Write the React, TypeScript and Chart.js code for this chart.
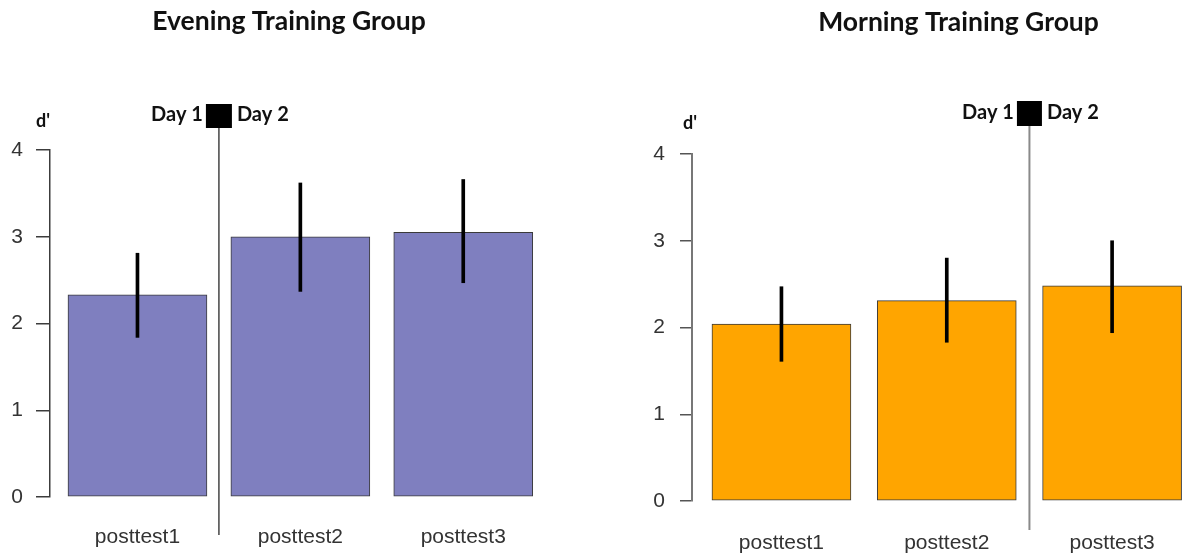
import { useEffect, useRef } from "react";
import { Chart, registerables } from "chart.js";

Chart.register(...registerables);

// Sessions shown on the x axis
const CATEGORIES = ["posttest1", "posttest2", "posttest3"];
const Y_MIN = 0;
const Y_MAX = 4;
const Y_STEP = 1;

// Evening group: mean d' with error-bar limits
const EVENING_MEAN = [2.33, 3.0, 3.05];
const EVENING_LOW = [1.84, 2.37, 2.47];
const EVENING_HIGH = [2.81, 3.62, 3.66];
const EVENING_DAY_SPLIT = 0.5;

// Morning group: mean d' with error-bar limits
const MORNING_MEAN = [2.04, 2.31, 2.48];
const MORNING_LOW = [1.61, 1.83, 1.94];
const MORNING_HIGH = [2.47, 2.8, 3.0];
const MORNING_DAY_SPLIT = 1.5;

const CANVAS_W = 593;
const CANVAS_H = 559;

const TICK_FONT = '"Liberation Sans", Arial, sans-serif';
const HEAD_FONT = 'Lato, "Open Sans", sans-serif';

type Panel = {
  title: string;
  mean: number[];
  low: number[];
  high: number[];
  split: number;
  fill: string;
  canvasLeft: number;
  axisWidth: number;
  top: number;
  bottom: number;
  padRight: number;
  xMin: number;
  xMax: number;
  tickLength: number;
  tickPad: number;
  labelPad: number;
  axisColor: string;
  axisWidthPx: number;
  tickColor: string;
  dividerColor: string;
  dividerWidth: number;
  dividerEnd: number;
  boxTop: number;
  boxW: number;
  boxH: number;
  dayY: number;
  titleX: number;
  titleY: number;
  dLabelX: number;
  dLabelY: number;
};

const PANELS: Panel[] = [
  {
    title: "Evening Training Group",
    mean: EVENING_MEAN,
    low: EVENING_LOW,
    high: EVENING_HIGH,
    split: EVENING_DAY_SPLIT,
    fill: "#7f7fbf",
    canvasLeft: 0,
    axisWidth: 50,
    top: 150,
    bottom: 497,
    padRight: 33,
    xMin: -0.537,
    xMax: 2.594,
    tickLength: 14,
    tickPad: 13,
    labelPad: 28,
    axisColor: "#3c3c3c",
    axisWidthPx: 1.5,
    tickColor: "#3c3c3c",
    dividerColor: "#444444",
    dividerWidth: 1.5,
    dividerEnd: 535,
    boxTop: 104,
    boxW: 26,
    boxH: 24,
    dayY: 115,
    titleX: 289,
    titleY: 21,
    dLabelX: 36,
    dLabelY: 121,
  },
  {
    title: "Morning Training Group",
    mean: MORNING_MEAN,
    low: MORNING_LOW,
    high: MORNING_HIGH,
    split: MORNING_DAY_SPLIT,
    fill: "#ffa500",
    canvasLeft: 593,
    axisWidth: 99,
    top: 154,
    bottom: 501,
    padRight: 0,
    xMin: -0.541,
    xMax: 2.447,
    tickLength: 12,
    tickPad: 15,
    labelPad: 30,
    axisColor: "#777777",
    axisWidthPx: 2,
    tickColor: "#555555",
    dividerColor: "#8a8a8a",
    dividerWidth: 2,
    dividerEnd: 530,
    boxTop: 101,
    boxW: 25,
    boxH: 25,
    dayY: 113,
    titleX: 365.5,
    titleY: 22,
    dLabelX: 90,
    dLabelY: 123,
  },
];

// Draws the panel heading, the d' axis caption and the Day 1 / Day 2 divider
function makeDecorations(p: Panel) {
  return {
    id: "panelDecorations",
    afterDatasetsDraw(chart: Chart) {
      const ctx = chart.ctx;
      const x = chart.scales.x.getPixelForValue(p.split);
      ctx.save();

      // divider line and marker square
      ctx.strokeStyle = p.dividerColor;
      ctx.lineWidth = p.dividerWidth;
      ctx.beginPath();
      ctx.moveTo(x, p.boxTop + p.boxH);
      ctx.lineTo(x, p.dividerEnd);
      ctx.stroke();
      ctx.fillStyle = "#000000";
      ctx.fillRect(x - p.boxW / 2, p.boxTop, p.boxW, p.boxH);

      ctx.fillStyle = "#111111";
      ctx.textBaseline = "middle";
      ctx.font = `bold 20px ${HEAD_FONT}`;
      ctx.textAlign = "right";
      ctx.fillText("Day 1", x - p.boxW / 2 - 3, p.dayY);
      ctx.textAlign = "left";
      ctx.fillText("Day 2", x + p.boxW / 2 + 5, p.dayY);

      // d' caption above the y axis
      ctx.font = `bold 18px ${HEAD_FONT}`;
      ctx.textAlign = "left";
      ctx.fillText("d'", p.dLabelX, p.dLabelY);

      // heading
      ctx.font = `bold 26.5px ${HEAD_FONT}`;
      ctx.textAlign = "center";
      ctx.fillText(p.title, p.titleX, p.titleY);
      ctx.restore();
    },
  };
}

function PanelChart({ p }: { p: Panel }) {
  const ref = useRef<HTMLCanvasElement>(null);

  useEffect(() => {
    const canvas = ref.current;
    if (!canvas) return;
    const chart = new Chart(canvas, {
      type: "bar",
      data: {
        datasets: [
          {
            label: "error",
            data: p.low.map((lo, i) => ({ x: i, y: [lo, p.high[i]] })) as any,
            backgroundColor: "#000000",
            borderWidth: 0,
            barThickness: 3,
            grouped: false,
            order: 0,
          },
          {
            label: "mean",
            data: p.mean.map((v, i) => ({ x: i, y: v })) as any,
            backgroundColor: p.fill,
            borderColor: "#3a3a3a",
            borderWidth: 1,
            borderSkipped: false,
            barThickness: 139,
            grouped: false,
            order: 1,
          },
        ],
      },
      options: {
        animation: false,
        responsive: false,
        maintainAspectRatio: false,
        layout: { padding: { top: p.top, right: p.padRight, left: 0, bottom: 0 } },
        plugins: {
          legend: { display: false },
          tooltip: { enabled: false },
          title: { display: false },
        },
        scales: {
          x: {
            type: "linear",
            offset: false,
            min: p.xMin,
            max: p.xMax,
            grid: { display: false, drawTicks: false, offset: false },
            border: { display: false },
            afterBuildTicks: (scale: any) => {
              scale.ticks = CATEGORIES.map((_, i) => ({ value: i }));
            },
            afterFit: (scale: any) => {
              scale.height = CANVAS_H - p.bottom;
            },
            ticks: {
              padding: p.labelPad,
              color: "#333333",
              font: { family: TICK_FONT, size: 21 },
              maxRotation: 0,
              autoSkip: false,
              callback: (v: any) => CATEGORIES[Math.round(Number(v))] ?? "",
            },
          },
          y: {
            type: "linear",
            min: Y_MIN,
            max: Y_MAX,
            afterFit: (scale: any) => {
              scale.width = p.axisWidth;
            },
            grid: {
              drawOnChartArea: false,
              drawTicks: true,
              tickLength: p.tickLength,
              color: p.tickColor,
              lineWidth: 1.5,
            },
            border: { display: true, color: p.axisColor, width: p.axisWidthPx },
            ticks: {
              stepSize: Y_STEP,
              padding: p.tickPad,
              color: "#333333",
              font: { family: TICK_FONT, size: 21 },
            },
          },
        },
      },
      plugins: [makeDecorations(p)],
    } as any);
    return () => chart.destroy();
  }, [p]);

  return (
    <canvas
      ref={ref}
      width={CANVAS_W}
      height={CANVAS_H}
      style={{ position: "absolute", left: p.canvasLeft, top: 0, display: "block" }}
    />
  );
}

export default function App() {
  return (
    <div
      style={{
        position: "absolute",
        left: 0,
        top: 0,
        width: 1186,
        height: 559,
        background: "#ffffff",
        overflow: "hidden",
      }}
    >
      {PANELS.map((p) => (
        <PanelChart key={p.title} p={p} />
      ))}
    </div>
  );
}
